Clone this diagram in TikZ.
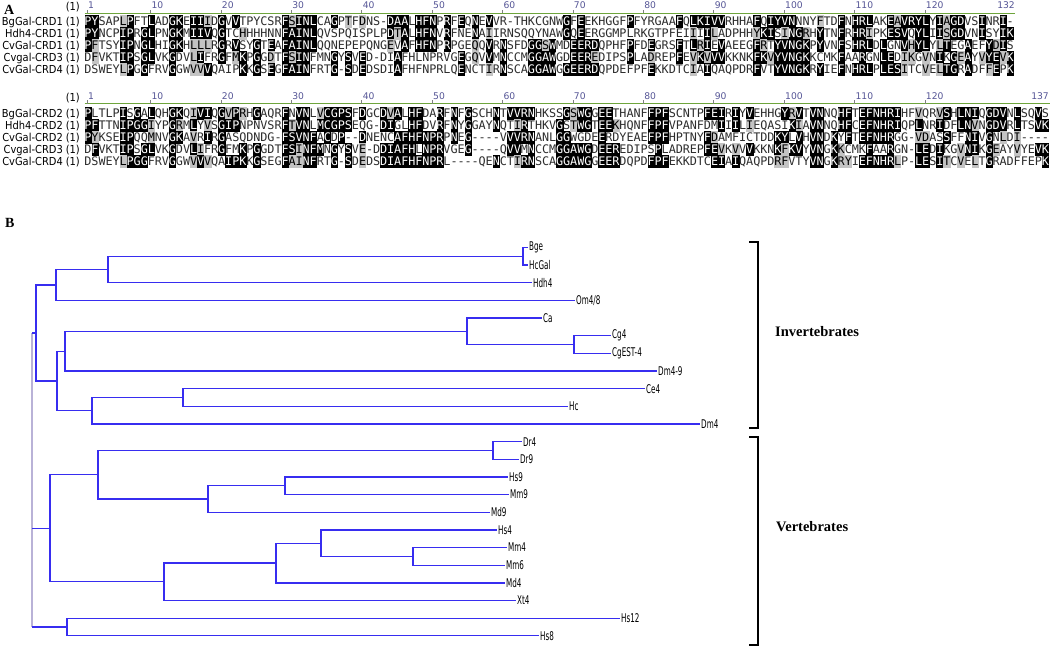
\documentclass[tikz,border=0pt]{standalone}
\usepackage{fontspec}
\setmainfont{Liberation Serif}
\newfontfamily\seqfont{DejaVu Sans Mono}
\newfontfamily\labfont[FakeStretch=0.9]{DejaVu Sans}
\newfontfamily\numfont{DejaVu Sans}
\newfontfamily\treefont[FakeStretch=0.6]{DejaVu Sans}
\definecolor{treeblue}{RGB}{55,45,240}
\definecolor{rootgray}{RGB}{185,178,215}
\definecolor{rulegreen}{RGB}{110,165,60}
\definecolor{numcol}{RGB}{85,85,150}
\definecolor{hlgray}{RGB}{195,195,195}
\definecolor{plaintext}{RGB}{45,45,45}
\tikzset{
  seqchar/.style={anchor=base, inner sep=0pt, font=\seqfont\fontsize{11.8}{11.8}\selectfont},
  rowlab/.style={anchor=base east, inner sep=0pt, font=\labfont\fontsize{11}{11}\selectfont},
  numlab/.style={anchor=base west, inner sep=0pt, text=numcol, font=\numfont\fontsize{9.2}{9.2}\selectfont},
  endlab/.style={anchor=base east, inner sep=0pt, text=numcol, font=\numfont\fontsize{9.2}{9.2}\selectfont},
  branch/.style={draw=treeblue, line width=1.3pt},
  rootline/.style={draw=rootgray, line width=1.3pt},
  leaf/.style={anchor=west, inner sep=0pt, xshift=1pt, font=\treefont\fontsize{12}{12}\selectfont},
  bracket/.style={draw=black, line width=1.8pt},
  grouplab/.style={anchor=base west, inner sep=0pt, font=\bfseries\fontsize{14.5}{14.5}\selectfont},
  panel/.style={anchor=base west, inner sep=0pt, font=\bfseries\fontsize{14}{14}\selectfont},
  rulerline/.style={draw=rulegreen, line width=1pt},
  tickmark/.style={draw=gray, line width=0.6pt},
}
\newcommand\cellbox[3]{\fill[#3] ({84.5+(#1-1)*7.04},{#2-6}) rectangle ({84.8+#1*7.04},{#2+6.3});}
\newcommand\cellchar[5]{\node[seqchar,text=#4] (#1) at ({88+(#2-1)*7.04},{#3+4.2}) {#5};}

\ExplSyntaxOn
\int_new:N \l__aa_len_int
\int_new:N \l__aa_max_int
\int_new:N \l__aa_cnt_int
\int_new:N \l__aa_gcnt_int
\tl_new:N \l__aa_cons_tl
\tl_new:N \l__aa_gcons_tl
\tl_new:N \l__aa_y_tl
\tl_new:N \l__aa_type_tl
\int_step_inline:nn {5} { \str_new:c {l__aa_r#1_str} \tl_new:c {l__aa_c#1_tl} }
\cs_generate_variant:Nn \str_item:Nn {c}
\cs_new:Npn \__aa_group:n #1
  { \str_case:nnF {#1} { {I}{1}{L}{1}{V}{1}{M}{1}{F}{2}{Y}{2}{W}{2}{K}{3}{R}{3}{H}{3}{D}{4}{E}{4}{S}{5}{T}{5}{A}{5}{N}{6}{Q}{6} } {z#1} }
\cs_generate_variant:Nn \__aa_group:n {V,v}
\cs_new_protected:Npn \aa_block:nnnnnnn #1#2#3#4#5#6#7
 {
   \str_set:cn {l__aa_r1_str} {#3}
   \str_set:cn {l__aa_r2_str} {#4}
   \str_set:cn {l__aa_r3_str} {#5}
   \str_set:cn {l__aa_r4_str} {#6}
   \str_set:cn {l__aa_r5_str} {#7}
   \int_set:Nn \l__aa_len_int { \str_count:n {#3} }
   \int_step_inline:nn { \l__aa_len_int }
    {
      \int_step_inline:nn {5}
       { \tl_set:cx {l__aa_c####1_tl} { \str_item:cn {l__aa_r####1_str} {##1} } }
      \int_zero:N \l__aa_max_int
      \tl_clear:N \l__aa_cons_tl
      \int_step_inline:nn {5}
       {
         \str_if_eq:eeF { \tl_use:c {l__aa_c####1_tl} } { - }
          {
            \int_zero:N \l__aa_cnt_int
            \int_step_inline:nn {5}
             {
               \str_if_eq:eeT { \tl_use:c {l__aa_c####1_tl} } { \tl_use:c {l__aa_c########1_tl} }
                { \int_incr:N \l__aa_cnt_int }
             }
            \int_compare:nNnT { \l__aa_cnt_int } > { \l__aa_max_int }
             {
               \int_set_eq:NN \l__aa_max_int \l__aa_cnt_int
               \tl_set:Nx \l__aa_cons_tl { \tl_use:c {l__aa_c####1_tl} }
             }
          }
       }
      \tl_set:Nx \l__aa_gcons_tl { \__aa_group:V \l__aa_cons_tl }
      \int_zero:N \l__aa_gcnt_int
      \int_step_inline:nn {5}
       {
         \str_if_eq:eeF { \tl_use:c {l__aa_c####1_tl} } { - }
          {
            \str_if_eq:eeT { \__aa_group:v {l__aa_c####1_tl} } { \l__aa_gcons_tl }
              { \int_incr:N \l__aa_gcnt_int }
          }
       }
      \int_step_inline:nn {5}
       {
         \tl_set:Nx \l__aa_y_tl { \fp_eval:n { #2 + 12 * (####1 - 1) } }
         \tl_set:Nn \l__aa_type_tl {n}
         \str_if_eq:eeF { \tl_use:c {l__aa_c####1_tl} } { - }
          {
            \str_if_eq:eeTF { \tl_use:c {l__aa_c####1_tl} } { \l__aa_cons_tl }
             {
               \bool_if:nT { \int_compare_p:nNn {\l__aa_max_int} > {2} || \int_compare_p:nNn {\l__aa_gcnt_int} > {2} }
                 { \tl_set:Nn \l__aa_type_tl {b} }
             }
             {
               \str_if_eq:eeT { \__aa_group:v {l__aa_c####1_tl} } { \l__aa_gcons_tl }
                {
                  \int_compare:nNnT {\l__aa_gcnt_int} > {2}
                    { \tl_set:Nn \l__aa_type_tl {g} }
                }
             }
          }
         \exp_args:NV \str_case:nnF \l__aa_type_tl
          {
            {b} { \use:x { \exp_not:N \cellbox {##1} {\l__aa_y_tl} {black}
                           \exp_not:N \cellchar {c-#1-####1-##1} {##1} {\l__aa_y_tl} {white} { \tl_use:c {l__aa_c####1_tl} } } }
            {g} { \use:x { \exp_not:N \cellbox {##1} {\l__aa_y_tl} {hlgray}
                           \exp_not:N \cellchar {c-#1-####1-##1} {##1} {\l__aa_y_tl} {black} { \tl_use:c {l__aa_c####1_tl} } } }
          }
          { \use:x { \exp_not:N \cellchar {c-#1-####1-##1} {##1} {\l__aa_y_tl} {plaintext} { \tl_use:c {l__aa_c####1_tl} } } }
       }
    }
 }
\NewDocumentCommand \alignblock { m m m m m m m } { \aa_block:nnnnnnn {#1}{#2}{#3}{#4}{#5}{#6}{#7} }
\ExplSyntaxOff

\begin{document}
\begin{tikzpicture}[x=1pt,y=-1pt]
\useasboundingbox (0,0) rectangle (1050,647);
\fill[white] (0,0) rectangle (1050,647);

% ---------------- Panel A ----------------
\node[panel] (pA) at (4,14.5) {A};

% ruler block 1
\coordinate (r1a) at (84.5,13.5);
\coordinate (r1b) at (1015,13.5);
\draw[rulerline] (r1a) -- (r1b);
\node[rowlab] (h1p) at (80,10.5) {(1)};
\foreach \c/\t in {1/1,10/10,20/20,30/30,40/40,50/50,60/60,70/70,80/80,90/90,100/100,110/110,120/120}{
  \coordinate (t1-\c) at ({87.2+(\c-1)*7.04},10);
  \coordinate (t1b-\c) at ({87.2+(\c-1)*7.04},13.5);
  \draw[tickmark] (t1-\c) -- (t1b-\c);
  \node[numlab] (n1-\c) at ({88+(\c-1)*7.04},8.5) {\t};
}
\node[endlab] (n1-132) at (1015,8.5) {132};

% ruler block 2
\coordinate (r2a) at (84.5,104);
\coordinate (r2b) at (1050,104);
\draw[rulerline] (r2a) -- (r2b);
\node[rowlab] (h2p) at (80,102) {(1)};
\foreach \c/\t in {1/1,10/10,20/20,30/30,40/40,50/50,60/60,70/70,80/80,90/90,100/100,110/110,120/120}{
  \coordinate (t2-\c) at ({87.2+(\c-1)*7.04},100.5);
  \coordinate (t2b-\c) at ({87.2+(\c-1)*7.04},104);
  \draw[tickmark] (t2-\c) -- (t2b-\c);
  \node[numlab] (n2-\c) at ({88+(\c-1)*7.04},100) {\t};
}
\node[endlab] (n2-137) at (1049,100) {137};

% row labels block 1
\foreach \i/\n in {0/BgGal-CRD1,1/Hdh4-CRD1,2/CvGal-CRD1,3/Cvgal-CRD3,4/CvGal-CRD4}{
  \node[rowlab] (la\i) at (63,{21.5+12*\i+4}) {\n};
  \node[rowlab] (pa\i) at (80,{21.5+12*\i+4}) {(1)};
}
% row labels block 2
\foreach \i/\n in {0/BgGal-CRD2,1/Hdh4-CRD2,2/CvGal-CRD2,3/Cvgal-CRD3,4/CvGal-CRD4}{
  \node[rowlab] (lb\i) at (63,{113.5+12*\i+4}) {\n};
  \node[rowlab] (pb\i) at (80,{113.5+12*\i+4}) {(1)};
}

\alignblock{A}{21.5}
 {PYSAPLPFTLADGKEIIIDGVVTPYCSRFSINLCAGPTFDNS-DAALHFNPRFEQNEVVR-THKCGNWGFEEKHGGFPFYRGAAFQLKIVVRHHAFQIYVNNNYFTDFNHRLAKEAVRYLYIAGDVSINRI-}
 {PYNCPIPRGLPNGKMIIVQGTCHHHHNNFAINLQVSPQISPLPDTALHFNVRFNENAIIRNSQQYNAWGQEERGGMPLRKGTPFEIIIILADPHHYKISINGRHYTNFRHRIPKESVQYLIISGDVNISYIK}
 {PFTSYIPNGLHIGKHLLLRGRVSYGTEAFAINLQQNEPEPQNGEVAFHFNPRPGEQQVRNSFDGGSWMDEERDQPHFPFDEGRSFTLRIEVAEEGFRTYVNGKPYVNFSHRLDLGNVHYLYLTEGAEFYDIS}
 {DFVKTIPSGLVKGDVLIFRGFMKPGGDTFSINFMNGYSVED-DIAFHLNPRVGEGQVVMNCCMGGAWGDEEREDIPSPLADREPFEVKVVVKKNKFKVYVNGKKCMKFAARGNLEDIKGVNIKGEAYVYEVK}
 {DSWEYLPGGFRVGGWVVVQAIPKKGSEGFAINFRTG-SDEDSDIAFHFNPRLQENCTIRNSCAGGAWGGEERDQPDEFPFEKKDTCIAIQAQPDRFVTYVNGKRYIEFNHRLPLESITCVELTGRADFFEPK}

\alignblock{B}{113.5}
 {PLTLPISGALQHGKQIVIQGVPRHGAQRFNVNLVCGPSFDGCDVALHFDARFNFGSCHNTVVRNHKSSGSWGGEETHANFFPFSCNTPFEIRIYVEHHGYRVTVNNQHFTEFNHRIHFVQRVSHLNIQGDVNLSQVS}
 {PFTTNIPGGIYPGRMLYVSGIPNPNVSRFTVNLMCGPSEQG-DIGLHFDVRFNYGGAYNQTIRTHKVGSTWGTEEKHQNFFPFVPANFDMIIILIEQASIKIAVNNQHFCEFNHRIQPLNRIDFLNVNGDVRLTSVK}
 {PYKSEIPQQMNVGKAVRIRGASQDNDG-FSVNFACDP--DNENCAFHFNPRPNEG----VVVRNANLGGWGDEERDYEAEFPFHPTNYFDAMFICTDDKYLVHVNDKYFTEFNHRGG-VDASSFFNIVGNLDI----}
 {DFVKTIPSGLVKGDVLIFRGFMKPGGDTFSINFMNGYSVE-DDIAFHLNPRVGEG----QVVMNCCMGGAWGDEEREDIPSPLADREPFEVKVVVKKNKFKVYVNGKKCMKFAARGN-LEDIKGVNIKGEAYVYEVK}
 {DSWEYLPGGFRVGGWVVVQAIPKKGSEGFAINFRTG-SDEDSDIAFHFNPRL----QENCTIRNSCAGGAWGGEERDQPDFPFEKKDTCEIAIQAQPDRFVTYVNGKRYIEFNHRLP-LESITCVELTGRADFFEPK}

% ---------------- Panel B ----------------
\node[panel] (pB) at (5,228) {B};

% leaves
\coordinate (lBge) at (528,247.5);
\coordinate (lHcGal) at (528,265.15);
\coordinate (lHdh4) at (532,282.8);
\coordinate (lOm) at (575,300.45);
\coordinate (lCa) at (542,318.1);
\coordinate (lCg4) at (611,335.75);
\coordinate (lCgEST) at (611,353.4);
\coordinate (lDm49) at (657,371.05);
\coordinate (lCe4) at (645,388.7);
\coordinate (lHc) at (568,406.35);
\coordinate (lDm4) at (700,424.0);
\coordinate (lDr4) at (522,441.65);
\coordinate (lDr9) at (519,459.3);
\coordinate (lHs9) at (508,476.95);
\coordinate (lMm9) at (509,494.6);
\coordinate (lMd9) at (490,512.25);
\coordinate (lHs4) at (497,529.9);
\coordinate (lMm4) at (507,547.55);
\coordinate (lMm6) at (505,565.2);
\coordinate (lMd4) at (505,582.85);
\coordinate (lXt4) at (516,600.5);
\coordinate (lHs12) at (620,618.15);
\coordinate (lHs8) at (539,635.8);

% internal nodes
\coordinate (nBH) at (523,256.3);
\coordinate (nBHH) at (108,269.6);
\coordinate (nBHHO) at (56,285.0);
\coordinate (nCg) at (574,344.6);
\coordinate (nCa) at (467,331.3);
\coordinate (nCaDm) at (65,351.2);
\coordinate (nCeHc) at (183,397.5);
\coordinate (nCeHcDm) at (92,410.8);
\coordinate (nRest) at (57,381.0);
\coordinate (nInv) at (36,333.0);
\coordinate (nDr) at (493,450.5);
\coordinate (nHM9) at (285,485.8);
\coordinate (n9) at (208,499.0);
\coordinate (nDr9) at (98,474.8);
\coordinate (nMm46) at (413,556.4);
\coordinate (nHs4) at (321,543.2);
\coordinate (nMd4) at (276,563.0);
\coordinate (nXt) at (164,581.8);
\coordinate (nVert) at (50,528.3);
\coordinate (nHs) at (67,627.0);
\coordinate (rA) at (32,333.0);
\coordinate (rB) at (32,528.3);
\coordinate (rC) at (32,627.0);

% root
\draw[rootline] (rA) -- (rC);
\draw[branch] (rA) -- (nInv);
\draw[branch] (rB) -- (nVert);
\draw[branch] (rC) -- (nHs);

% branches
\foreach \p/\c in {nBH/lBge,nBH/lHcGal,nBHH/nBH,nBHH/lHdh4,nBHHO/nBHH,nBHHO/lOm,
  nCg/lCg4,nCg/lCgEST,nCa/lCa,nCa/nCg,nCaDm/nCa,nCaDm/lDm49,nCeHc/lCe4,nCeHc/lHc,
  nCeHcDm/nCeHc,nCeHcDm/lDm4,nRest/nCaDm,nRest/nCeHcDm,nInv/nBHHO,nInv/nRest,
  nDr/lDr4,nDr/lDr9,nHM9/lHs9,nHM9/lMm9,n9/nHM9,n9/lMd9,nDr9/nDr,nDr9/n9,
  nMm46/lMm4,nMm46/lMm6,nHs4/lHs4,nHs4/nMm46,nMd4/nHs4,nMd4/lMd4,nXt/nMd4,nXt/lXt4,
  nVert/nDr9,nVert/nXt,nHs/lHs12,nHs/lHs8}
  \draw[branch] (\p) |- (\c);

% leaf labels
\foreach \c/\t in {lBge/Bge,lHcGal/HcGal,lHdh4/Hdh4,lOm/Om4\slash 8,lCa/Ca,lCg4/Cg4,lCgEST/CgEST-4,
  lDm49/Dm4-9,lCe4/Ce4,lHc/Hc,lDm4/Dm4,lDr4/Dr4,lDr9/Dr9,lHs9/Hs9,lMm9/Mm9,lMd9/Md9,
  lHs4/Hs4,lMm4/Mm4,lMm6/Mm6,lMd4/Md4,lXt4/Xt4,lHs12/Hs12,lHs8/Hs8}
  \node[leaf] (t\c) at (\c) {\t};

% brackets
\coordinate (iTL) at (749,242);
\coordinate (iT) at (758,242);
\coordinate (iB) at (758,428);
\coordinate (iBL) at (749,428);
\draw[bracket] (iTL) -- (iT) -- (iB) -- (iBL);
\coordinate (vTL) at (749,437);
\coordinate (vT) at (758,437);
\coordinate (vB) at (758,645);
\coordinate (vBL) at (749,645);
\draw[bracket] (vTL) -- (vT) -- (vB) -- (vBL);
\node[grouplab] (ginv) at (775,336) {Invertebrates};
\node[grouplab] (gvert) at (776,531) {Vertebrates};
\end{tikzpicture}
\end{document}
